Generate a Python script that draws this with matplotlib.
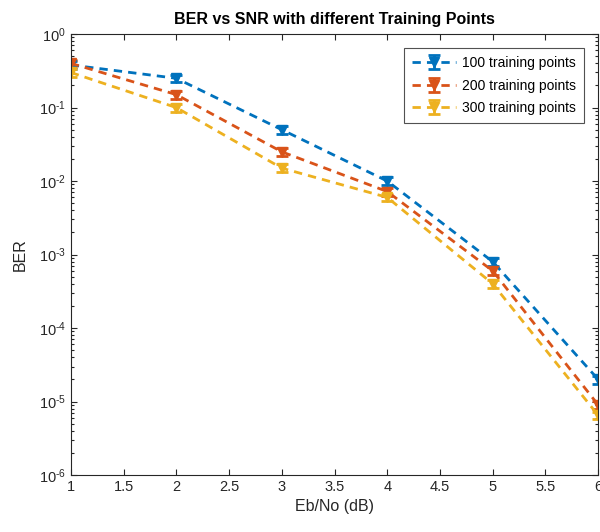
import matplotlib
matplotlib.use("Agg")
import matplotlib.pyplot as plt
from matplotlib.ticker import FuncFormatter
import numpy as np

plt.rcParams['font.family'] = ['Liberation Sans', 'DejaVu Sans']
plt.rcParams['axes.unicode_minus'] = False
plt.rcParams['mathtext.fontset'] = 'custom'
plt.rcParams['mathtext.rm'] = 'Liberation Sans'
plt.rcParams['mathtext.it'] = 'Liberation Sans'
plt.rcParams['mathtext.default'] = 'regular'

snr_db = [1, 2, 3, 4, 5, 6]
ber_100 = [0.38, 0.25, 0.05, 0.010, 0.0008, 2.0e-5]
ber_200 = [0.40, 0.15, 0.025, 0.0072, 0.0006, 9.0e-6]
ber_300 = [0.30, 0.10, 0.015, 0.006, 0.0004, 6.5e-6]
labels = ['100 training points', '200 training points', '300 training points']
colors = ['#0072BD', '#D95319', '#EDB120']
err_frac = 0.12

fig = plt.figure(figsize=(6.0, 5.32), dpi=100)
ax = fig.add_axes([0.118, 0.107, 0.879, 0.829])

for ys, lab, c in zip([ber_100, ber_200, ber_300], labels, colors):
    ys = np.array(ys)
    ax.errorbar(snr_db, ys, yerr=[ys * err_frac, ys * err_frac], fmt='--', color=c,
                lw=2, marker='v', ms=7, capsize=4, elinewidth=2, capthick=2,
                dashes=(3, 2.2), label=lab)

ax.set_yscale('log')
ax.set_xlim(1, 6)
ax.set_ylim(1e-6, 1)
ax.set_xticks([1, 1.5, 2, 2.5, 3, 3.5, 4, 4.5, 5, 5.5, 6])
ax.set_xticklabels(['1', '1.5', '2', '2.5', '3', '3.5', '4', '4.5', '5', '5.5', '6'])
ax.set_yticks([1e-6, 1e-5, 1e-4, 1e-3, 1e-2, 1e-1, 1])


def pow10_label(v, pos):
    e = int(round(np.log10(v)))
    if e < 0:
        return r'$10^{\text{-}%d}$' % (-e)
    return r'$10^{%d}$' % e


ax.yaxis.set_major_formatter(FuncFormatter(pow10_label))
ax.tick_params(which='both', direction='in', top=True, right=True, labelsize=10.5,
               colors='#262626', width=0.8)
ax.tick_params(which='major', length=4)
ax.tick_params(which='minor', length=2)
for s in ax.spines.values():
    s.set_color('#262626')
    s.set_linewidth(0.8)

ax.set_xlabel('Eb/No (dB)', fontsize=11.5, color='#262626', labelpad=4)
ax.set_ylabel('BER', fontsize=11.5, color='#262626', labelpad=8)
ax.set_title('BER vs SNR with different Training Points', fontsize=11.5,
             fontweight='bold', color='black', pad=7)

leg = ax.legend(loc='upper right', fontsize=10, frameon=True, fancybox=False,
                edgecolor='#262626', handlelength=3.2, borderaxespad=1.0,
                borderpad=0.6, labelspacing=0.6, handletextpad=0.4)
leg.get_frame().set_linewidth(0.8)

fig.savefig('out.png', dpi=100)
